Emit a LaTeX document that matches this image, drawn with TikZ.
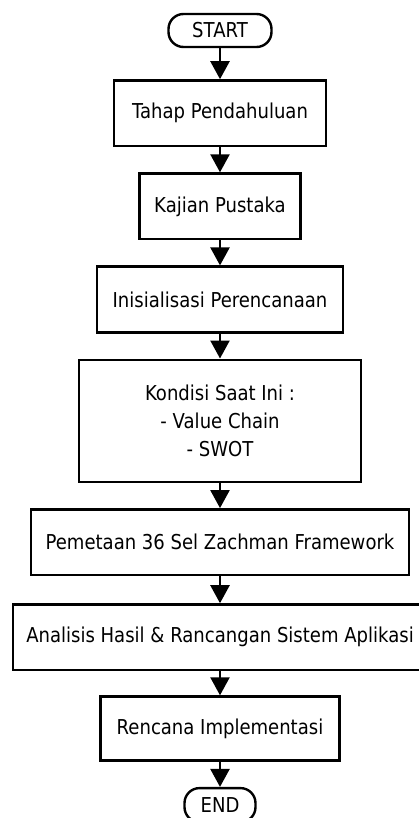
\documentclass[tikz,border=0pt]{standalone}
\usepackage{fontspec}
\setmainfont[FakeStretch=0.88]{DejaVu Sans}
\usetikzlibrary{positioning, arrows.meta}

\begin{document}
\begin{tikzpicture}[
        node distance=25pt,
        terminal/.style={
            rectangle,
            draw,
            line width=2.4pt,
            rounded corners=15pt,
            minimum height=33pt,
            inner sep=0pt,
            font=\fontsize{20.5}{28}\selectfont
        },
        stage/.style={
            rectangle,
            draw,
            line width=2.6pt,
            minimum height=65.5pt,
            inner sep=0pt,
            align=center,
            font=\fontsize{20.5}{28}\selectfont
        },
        flow/.style={
            -{Triangle[length=18pt, width=19pt]},
            line width=2.4pt
        }
    ]

    \useasboundingbox (0pt,0pt) rectangle (418pt,-818pt);

    % Start
    \node[terminal, minimum width=103pt] (start) at (220pt,-30.5pt) {START};

    % Stages
    \node[stage, minimum width=212pt, below=31pt of start] (pendahuluan) {Tahap Pendahuluan};
    \node[stage, minimum width=161pt, below=of pendahuluan] (pustaka) {Kajian Pustaka};
    \node[stage, minimum width=246pt, below=of pustaka] (inisialisasi) {Inisialisasi Perencanaan};
    \node[stage, minimum width=282pt, minimum height=122pt, below=of inisialisasi] (kondisi) {
        Kondisi Saat Ini :\\
        - Value Chain\\
        - SWOT
    };
    \node[stage, minimum width=378pt, below=of kondisi] (pemetaan) {Pemetaan 36 Sel Zachman Framework};
    \node[stage, minimum width=414pt, below=27pt of pemetaan] (analisis) {Analisis Hasil \& Rancangan Sistem Aplikasi};
    \node[stage, minimum width=239pt, minimum height=64pt, below=24pt of analisis] (implementasi) {Rencana Implementasi};

    % End
    \node[terminal, minimum width=71pt, minimum height=34pt, below=of implementasi] (end) {END};

    % Flow
    \draw[flow] (start.south) -- (pendahuluan.north);
    \draw[flow] (pendahuluan.south) -- (pustaka.north);
    \draw[flow] (pustaka.south) -- (inisialisasi.north);
    \draw[flow] (inisialisasi.south) -- (kondisi.north);
    \draw[flow] (kondisi.south) -- (pemetaan.north);
    \draw[flow] (pemetaan.south) -- (analisis.north);
    \draw[flow] (analisis.south) -- (implementasi.north);
    \draw[flow] (implementasi.south) -- (end.north);

\end{tikzpicture}
\end{document}
